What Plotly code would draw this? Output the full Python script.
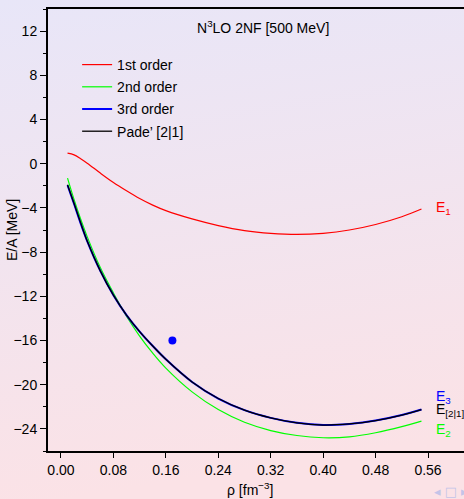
import base64
import plotly.graph_objects as go

# ---- data ----
rho = [0.01, 0.02, 0.03, 0.04, 0.06, 0.08, 0.10, 0.12, 0.14, 0.16, 0.20, 0.24, 0.28,
       0.32, 0.36, 0.40, 0.44, 0.48, 0.52, 0.55]
e_first = [0.95, 0.80, 0.45, 0.05, -0.85, -1.70, -2.45, -3.15, -3.75, -4.25, -5.00, -5.60, -6.05,
           -6.30, -6.40, -6.30, -6.00, -5.50, -4.80, -4.10]
e_second = [-1.30, -3.25, -5.00, -6.60, -9.40, -11.70, -13.80, -15.60, -17.15, -18.50, -20.65, -22.25, -23.40,
            -24.15, -24.60, -24.80, -24.72, -24.35, -23.80, -23.30]
e_third = [-1.95, -3.65, -5.40, -7.00, -9.70, -11.90, -13.70, -15.20, -16.50, -17.70, -19.75, -21.25, -22.30,
           -23.00, -23.45, -23.65, -23.55, -23.25, -22.75, -22.25]
e_pade = [-1.90, -3.60, -5.35, -7.00, -9.70, -11.90, -13.70, -15.20, -16.50, -17.70, -19.75, -21.25, -22.30,
          -23.00, -23.45, -23.65, -23.55, -23.25, -22.75, -22.25]
sat_rho = [0.17]
sat_e = [-16.0]

x_ticks = [0.00, 0.08, 0.16, 0.24, 0.32, 0.40, 0.48, 0.56]
y_ticks = [-24, -20, -16, -12, -8, -4, 0, 4, 8, 12]

RED, GREEN, BLUE, BLACK = "#FF0000", "#00FF00", "#0000FF", "#000000"
FONT = "Liberation Sans, Arial, Helvetica, sans-serif"

fig = go.Figure()
fig.add_trace(go.Scatter(x=rho, y=e_first, mode="lines", name="1st order",
                         line=dict(color=RED, width=1.2, shape="spline"), legendgroup="a"))
fig.add_trace(go.Scatter(x=rho, y=e_second, mode="lines", name="2nd order",
                         line=dict(color=GREEN, width=1.2, shape="spline"), legendgroup="b"))
fig.add_trace(go.Scatter(x=rho, y=e_third, mode="lines", name="3rd order",
                         line=dict(color=BLUE, width=2.0, shape="spline"), legendgroup="c"))
fig.add_trace(go.Scatter(x=rho, y=e_pade, mode="lines", name="Pade’ [2|1]",
                         line=dict(color=BLACK, width=1.3, shape="spline"), legendgroup="d"))
fig.add_trace(go.Scatter(x=sat_rho, y=sat_e, mode="markers", showlegend=False,
                         marker=dict(color=BLUE, size=8)))

xr = [-0.0198, 0.6149]
yr = [-26, 14]
pw, ph = 464 - 48, 499 - 9 - 48

fig.update_layout(
    width=464, height=499,
    margin=dict(l=48, r=0, t=9, b=48),
    paper_bgcolor="#F2E4EE",
    plot_bgcolor="white",
    font=dict(family=FONT, size=14, color="black"),
    showlegend=True,
    legend=dict(x=0.07, y=1 - 40 / ph, xanchor="left", yanchor="top",
                bgcolor="rgba(0,0,0,0)", font=dict(size=14), tracegroupgap=1,
                itemwidth=30),
    xaxis=dict(range=xr, tickvals=x_ticks, tickformat=".2f", ticks="outside",
               ticklen=5, tickwidth=1.2, tickcolor="black", showline=True, linewidth=2,
               linecolor="black", mirror=True, showgrid=False, zeroline=False),
    yaxis=dict(range=yr, tickvals=y_ticks, ticks="outside", ticklen=6, tickwidth=1.2,
               tickcolor="black", showline=True, linewidth=2, linecolor="black",
               showgrid=False, zeroline=False,
               minor=dict(dtick=2, tick0=0, ticks="outside", ticklen=3, tickwidth=1.2,
                          tickcolor="black", showgrid=False)),
    xaxis2=dict(range=xr, tickvals=x_ticks, overlaying="x", anchor="y", side="bottom",
                ticks="inside", ticklen=6, tickwidth=1.2, tickcolor="black",
                showticklabels=False, showline=False, showgrid=False, zeroline=False),
    yaxis2=dict(range=yr, tickvals=y_ticks, overlaying="y", anchor="x", side="left",
                ticks="inside", ticklen=6, tickwidth=1.2, tickcolor="black",
                showticklabels=False, showline=False, showgrid=False, zeroline=False,
                minor=dict(dtick=2, tick0=0, ticks="inside", ticklen=4, tickwidth=1.2,
                           tickcolor="black", showgrid=False)),
)

# gradient background (beamer slide)
svg = ('<svg xmlns="http://www.w3.org/2000/svg" width="464" height="499">'
       '<defs><linearGradient id="g" x1="0" y1="0" x2="0.15" y2="1">'
       '<stop offset="0" stop-color="#E8E6F8"/><stop offset="1" stop-color="#FBE2E6"/>'
       '</linearGradient></defs><rect width="464" height="499" fill="url(#g)"/></svg>')
src = "data:image/svg+xml;base64," + base64.b64encode(svg.encode()).decode()
fig.add_layout_image(dict(source=src, xref="paper", yref="paper",
                          x=-48 / pw, y=1 + 9 / ph, sizex=464 / pw, sizey=499 / ph,
                          sizing="stretch", layer="below", xanchor="left", yanchor="top"))

ann = []
ann.append(dict(text="N<sup>3</sup>LO 2NF [500 MeV]", xref="paper", yref="paper",
                x=(263 - 48) / pw, y=1 - 18 / ph, showarrow=False,
                xanchor="center", yanchor="middle", font=dict(size=14, color="black")))
ann.append(dict(text="ρ [fm<sup>−3</sup>]", xref="paper", yref="paper",
                x=(250 - 48) / pw, y=0, yshift=-38, showarrow=False,
                xanchor="center", yanchor="middle", font=dict(size=14)))
ann.append(dict(text="E/A [MeV]", xref="paper", yref="paper", x=0, xshift=-36,
                y=0.5, textangle=-90, showarrow=False, xanchor="center",
                yanchor="middle", font=dict(size=14)))
labels = [("E<sub>1</sub>", -4.0, RED), ("E<sub>3</sub>", -21.1, BLUE),
          ("E<sub>[2|1]</sub>", -22.3, BLACK), ("E<sub>2</sub>", -24.1, GREEN)]
for t, yv, c in labels:
    ann.append(dict(text=t, x=0.569, y=yv, xref="x", yref="y", showarrow=False,
                    xanchor="left", yanchor="middle", font=dict(size=14, color=c)))
ann.append(dict(text="◂ □ ▸ ◂ ❐", xref="paper", yref="paper", x=(432 - 48) / pw,
                y=0, yshift=-40, showarrow=False, xanchor="left", yanchor="middle",
                font=dict(family="DejaVu Sans", size=13, color="#C4C4E8")))
fig.update_layout(annotations=ann)

fig.write_html("out.html", config={"displayModeBar": False},
               post_script="document.body.style.margin='0';")
